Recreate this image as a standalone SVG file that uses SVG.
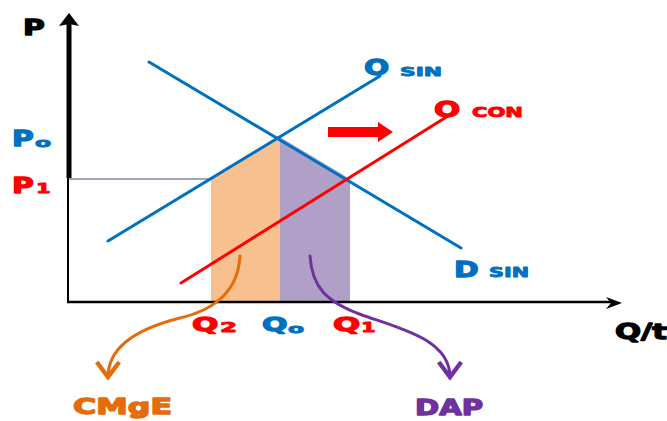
<svg xmlns="http://www.w3.org/2000/svg" width="667" height="421" viewBox="0 0 667 421">
<defs>
<style>
text{font-family:"DejaVu Sans","Liberation Sans",sans-serif;font-weight:bold;stroke-linejoin:round;paint-order:stroke}
.big{font-size:22px;stroke-width:1.3}
.sub{font-size:13px;stroke-width:0.9}
.lbl{font-size:21px;stroke-width:1.3}
.blue{fill:#0070C0;stroke:#0070C0}
.red{fill:#FF0000;stroke:#FF0000}
.blk{fill:#000;stroke:#000}
.org{fill:#E46C0A;stroke:#E46C0A}
.pur{fill:#7030A0;stroke:#7030A0}
.line{fill:none;stroke-width:3;stroke-linecap:round}
</style>
<marker id="hOrg" markerUnits="userSpaceOnUse" markerWidth="30" markerHeight="30" viewBox="-16 -12 20 24" refX="0" refY="0" orient="auto">
<path d="M-12,-9 L0,0 L-12,9" fill="none" stroke="#E46C0A" stroke-width="3.5" stroke-linejoin="miter"/>
</marker>
<marker id="hPur" markerUnits="userSpaceOnUse" markerWidth="30" markerHeight="30" viewBox="-16 -12 20 24" refX="0" refY="0" orient="auto">
<path d="M-12,-9 L0,0 L-12,9" fill="none" stroke="#7030A0" stroke-width="3.5" stroke-linejoin="miter"/>
</marker>
</defs>

<g id="areas">
<polygon id="cmge-area" points="211,179 280,137 280,302 211,302" fill="#F9C08F"/>
<polygon id="dap-area" points="280,137 350,179 350,302 280,302" fill="#B0A0C8"/>
</g>

<g id="axes">
<line x1="68" y1="179" x2="212" y2="179" stroke="#7A8A9C" stroke-width="1.5"/>
<line x1="69" y1="24" x2="69" y2="178" stroke="#000" stroke-width="5"/>
<line x1="68" y1="176" x2="68" y2="303" stroke="#000" stroke-width="2"/>
<polygon points="69,13 79,26 69,24 59,26" fill="#000"/>
<line x1="67" y1="302" x2="614" y2="302" stroke="#000" stroke-width="2.5"/>
<polygon points="622,303 606,297 611,303 606,309" fill="#000"/>
</g>

<g id="connectors">
<line id="demand" class="line" x1="149" y1="62" x2="461" y2="248" stroke="#0070C0"/>
<line id="supply-sin" class="line" x1="108" y1="241" x2="380" y2="76" stroke="#0070C0"/>
<line id="supply-con" class="line" x1="181" y1="283" x2="448" y2="116" stroke="#FF0000"/>
<polygon id="shift-arrow" points="328,127 378,127 378,122 393,132 378,142 378,137 328,137" fill="#FF0000"/>
<path id="arrow-cmge" class="line" d="M240,256 C238,292 214,310 180,318 C140,328 108,345 108,377" stroke="#E46C0A" marker-end="url(#hOrg)"/>
<path id="arrow-dap" class="line" d="M310,256 C312,287 326,302 362,315 C402,329 450,340 450,377" stroke="#7030A0" marker-end="url(#hPur)"/>
</g>

<g id="label-P"><text class="big blk" transform="translate(23,35) scale(1.35,1)">P</text></g>
<g id="label-Po">
<text class="big blue" transform="translate(12,146) scale(1.35,1)">P</text>
<text class="sub blue" transform="translate(35,147) scale(1.8,1)">o</text>
</g>
<g id="label-P1">
<text class="big red" transform="translate(12,193) scale(1.35,1)">P</text>
<text class="sub red" style="font-size:14px" transform="translate(36,193) scale(1.5,1)">1</text>
</g>
<g id="label-Osin">
<text class="big blue" transform="translate(364,75) scale(1.35,1)">O</text>
<text class="sub blue" x="400" y="76" textLength="42" lengthAdjust="spacingAndGlyphs">SIN</text>
</g>
<g id="label-Ocon">
<text class="big red" transform="translate(434,117) scale(1.4,1)">O</text>
<text class="sub red" x="472" y="117" style="font-size:14px" textLength="51" lengthAdjust="spacingAndGlyphs">CON</text>
</g>
<g id="label-Dsin">
<text class="big blue" transform="translate(454,277) scale(1.35,1)">D</text>
<text class="sub blue" x="489" y="277" style="font-size:14px" textLength="40" lengthAdjust="spacingAndGlyphs">SIN</text>
</g>
<g id="label-Qt"><text class="big blk" x="615" y="339" textLength="52" lengthAdjust="spacingAndGlyphs">Q/t</text></g>
<g id="label-Q2">
<text class="big red" style="font-size:20px" transform="translate(192,331) scale(1.55,1)">Q</text>
<text class="sub red" style="font-size:14px" transform="translate(220,332) scale(1.75,1)">2</text>
</g>
<g id="label-Qo">
<text class="big blue" style="font-size:20px" transform="translate(262,331) scale(1.5,1)">Q</text>
<text class="sub blue" transform="translate(288,333) scale(1.8,1)">o</text>
</g>
<g id="label-Q1">
<text class="big red" style="font-size:20px" transform="translate(333,331) scale(1.6,1)">Q</text>
<text class="sub red" style="font-size:14px" transform="translate(361,332) scale(1.5,1)">1</text>
</g>
<g id="label-CMgE"><text class="lbl org" x="73" y="414" textLength="99" lengthAdjust="spacingAndGlyphs">CMgE</text></g>
<g id="label-DAP"><text class="lbl pur" x="415" y="415" textLength="68" lengthAdjust="spacingAndGlyphs">DAP</text></g>
</svg>
